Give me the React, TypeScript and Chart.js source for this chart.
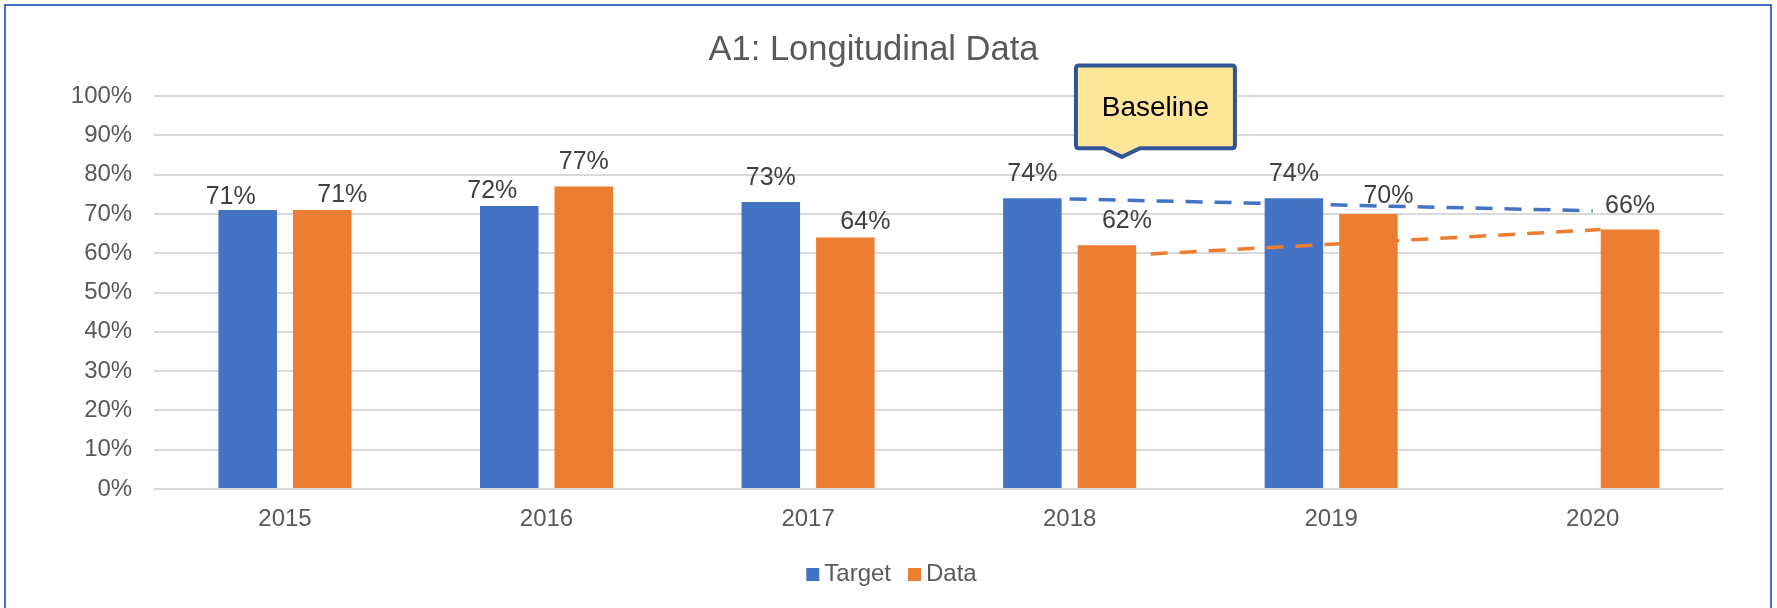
import React, { useEffect, useRef } from "react";
import { Chart, registerables } from "chart.js";

Chart.register(...registerables);

// ---------- data ----------
const chartTitle = "A1: Longitudinal Data";
const categories = ["2015", "2016", "2017", "2018", "2019", "2020"];
const targetValues: (number | null)[] = [71, 72, 73, 74, 74, null];
const dataValues: (number | null)[] = [71, 77, 64, 62, 70, 66];
const seriesNames = ["Target", "Data"];
const yMin = 0;
const yMax = 100;
const yStep = 10;
// dashed trend segments: x in category units (0 = 2015), y in %
const targetTrend = [
  { x: 3.0, y: 73.8 },
  { x: 5.0, y: 70.8 },
];
const dataTrend = [
  { x: 3.31, y: 59.8 },
  { x: 5.03, y: 66.0 },
];
const calloutText = "Baseline";
const calloutAnchor = { x: 3.2, y: 84 };

// ---------- styling / layout ----------
const FONT = "'Liberation Sans', Arial, Helvetica, sans-serif";
const BLUE = "#4472C4";
const ORANGE = "#ED7D31";
// manual nudges (px) of individual value labels, as in the original
const targetLabelNudge = [[-17, 11], [-17, 9], [0, 0], [0, 0], [0, 0], [0, 0]];
const dataLabelNudge = [[20, 9], [0, 0], [20, 9], [20, 0], [20, 6], [0, 0]];

const decorPlugin = {
  id: "decor",
  afterDatasetsDraw(chart: any) {
    const ctx = chart.ctx as CanvasRenderingContext2D;
    const xs = chart.scales.x;
    const ys = chart.scales.y;
    ctx.save();
    // dashed trend segments, positioned through the chart's own scales
    const trends: [{ x: number; y: number }[], string][] = [
      [targetTrend, BLUE],
      [dataTrend, ORANGE],
    ];
    trends.forEach(([pts, color]) => {
      ctx.beginPath();
      pts.forEach((p, i) => {
        const px = xs.getPixelForValue(p.x);
        const py = ys.getPixelForValue(p.y);
        if (i === 0) ctx.moveTo(px, py);
        else ctx.lineTo(px, py);
      });
      ctx.strokeStyle = color;
      ctx.lineWidth = 3.5;
      ctx.lineCap = "butt";
      ctx.setLineDash([17, 12]);
      ctx.stroke();
    });
    ctx.setLineDash([]);

    // value labels
    ctx.font = `25px ${FONT}`;
    ctx.fillStyle = "#404040";
    ctx.textAlign = "center";
    ctx.textBaseline = "alphabetic";
    const nudges = [targetLabelNudge, dataLabelNudge];
    [0, 1].forEach((di) => {
      const meta = chart.getDatasetMeta(di);
      const vals = chart.data.datasets[di].data as (number | null)[];
      meta.data.forEach((el: any, i: number) => {
        const v = vals[i];
        if (v === null || v === undefined) return;
        const [dx, dy] = nudges[di][i];
        ctx.fillText(`${v}%`, el.x + dx, el.y - 17 + dy);
      });
    });
    ctx.restore();
  },
  afterDraw(chart: any) {
    const ctx = chart.ctx as CanvasRenderingContext2D;
    const W = chart.width;
    ctx.save();
    // title
    ctx.font = `34.5px ${FONT}`;
    ctx.fillStyle = "#595959";
    ctx.textAlign = "center";
    ctx.textBaseline = "alphabetic";
    ctx.fillText(chartTitle, W / 2 - 15, 60);

    // legend
    ctx.font = `24px ${FONT}`;
    ctx.textAlign = "left";
    const box = 13;
    const gapBoxText = 5;
    const gapItems = 17;
    const widths = seriesNames.map((n) => ctx.measureText(n).width);
    const total =
      widths.reduce((a, b) => a + b, 0) + seriesNames.length * (box + gapBoxText) + gapItems * (seriesNames.length - 1);
    let lx = W / 2 + 3 - total / 2;
    const colors = [BLUE, ORANGE];
    seriesNames.forEach((n, i) => {
      ctx.fillStyle = colors[i];
      ctx.fillRect(lx, 568, box, box);
      lx += box + gapBoxText;
      ctx.fillStyle = "#595959";
      ctx.fillText(n, lx, 581);
      lx += widths[i] + gapItems;
    });

    // callout
    const tx = chart.scales.x.getPixelForValue(calloutAnchor.x);
    const ty = chart.scales.y.getPixelForValue(calloutAnchor.y);
    const L = tx - 46;
    const R = tx + 113;
    const T = ty - 93.3;
    const B = ty - 10.7;
    const r = 3;
    ctx.beginPath();
    ctx.moveTo(L + r, T);
    ctx.lineTo(R - r, T);
    ctx.quadraticCurveTo(R, T, R, T + r);
    ctx.lineTo(R, B - r);
    ctx.quadraticCurveTo(R, B, R - r, B);
    ctx.lineTo(tx + 18, B);
    ctx.lineTo(tx, ty - 2);
    ctx.lineTo(tx - 18, B);
    ctx.lineTo(L + r, B);
    ctx.quadraticCurveTo(L, B, L, B - r);
    ctx.lineTo(L, T + r);
    ctx.quadraticCurveTo(L, T, L + r, T);
    ctx.closePath();
    ctx.fillStyle = "#FFE699";
    ctx.fill();
    ctx.lineWidth = 4;
    ctx.lineJoin = "round";
    ctx.strokeStyle = "#2F5597";
    ctx.stroke();
    ctx.fillStyle = "#000000";
    ctx.font = `28px ${FONT}`;
    ctx.textAlign = "center";
    ctx.textBaseline = "middle";
    ctx.fillText(calloutText, (L + R) / 2, (T + B) / 2 + 1);
    ctx.restore();
  },
};

export default function App() {
  const canvasRef = useRef<HTMLCanvasElement | null>(null);

  useEffect(() => {
    const canvas = canvasRef.current;
    if (!canvas) return;
    const tickFont = { family: FONT, size: 24 };
    const chart = new Chart(canvas, {
      type: "bar",
      data: {
        labels: categories,
        datasets: [
          {
            label: seriesNames[0],
            data: targetValues,
            backgroundColor: BLUE,
            categoryPercentage: 0.57,
            barPercentage: 0.785,
          },
          {
            label: seriesNames[1],
            data: dataValues,
            backgroundColor: ORANGE,
            categoryPercentage: 0.57,
            barPercentage: 0.785,
          },
        ] as any,
      },
      options: {
        responsive: false,
        animation: false,
        devicePixelRatio: 1,
        layout: { padding: { left: 0, right: 53.5, top: 96, bottom: 0 } },
        plugins: {
          legend: { display: false },
          title: { display: false },
          tooltip: { enabled: false },
        },
        scales: {
          x: {
            type: "category",
            offset: true,
            grid: { display: false, drawTicks: false },
            border: { display: false },
            ticks: { color: "#595959", font: tickFont, padding: 15.5 },
            afterFit: (s: any) => {
              s.height = 119;
            },
          },
          y: {
            min: yMin,
            max: yMax,
            ticks: {
              stepSize: yStep,
              color: "#595959",
              font: tickFont,
              padding: 22,
              callback: (v: any) => `${v}%`,
            },
            grid: { color: "#D9D9D9", lineWidth: 2, drawTicks: false },
            border: { display: false },
            afterFit: (s: any) => {
              s.width = 154.2;
            },
          },
        } as any,
      },
      plugins: [decorPlugin],
    });
    return () => chart.destroy();
  }, []);

  return (
    <div>
      <div
        style={{
          position: "absolute",
          left: 4,
          top: 4,
          width: 1768,
          height: 604,
          boxSizing: "border-box",
          borderTop: "2px solid #4472C4",
          borderLeft: "2px solid #4472C4",
          borderRight: "2px solid #4472C4",
          background: "#ffffff",
        }}
      />
      <canvas
        ref={canvasRef}
        width={1777}
        height={608}
        style={{ position: "absolute", left: 0, top: 0, width: 1777, height: 608, display: "block" }}
      />
    </div>
  );
}
